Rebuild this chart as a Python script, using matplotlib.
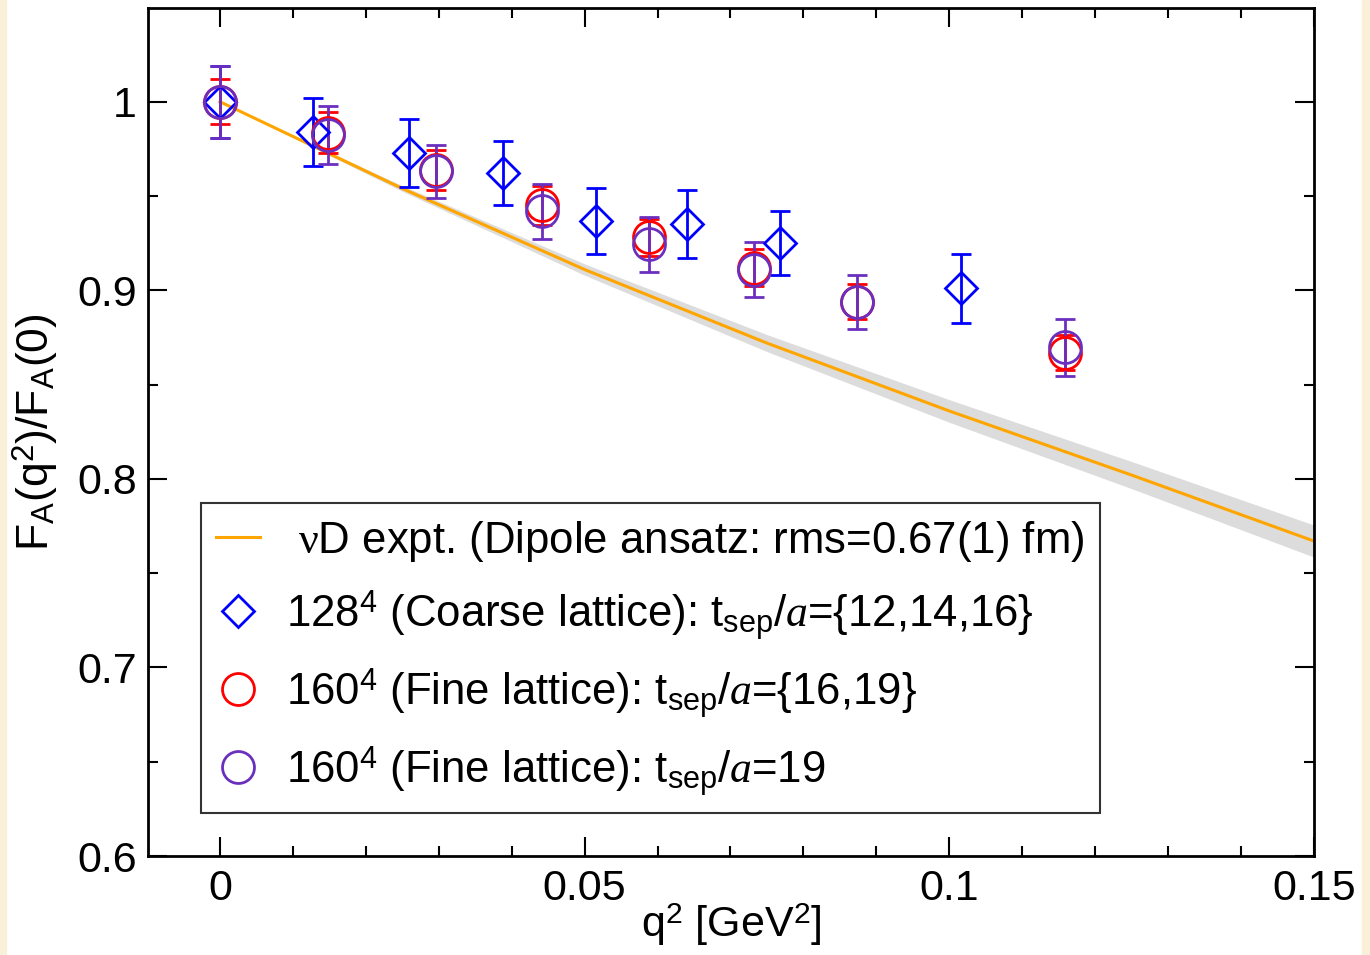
import matplotlib
matplotlib.use("Agg")
from matplotlib import pyplot as plt
from matplotlib.lines import Line2D
from matplotlib.patches import Rectangle
from matplotlib.ticker import MultipleLocator, FixedLocator
import numpy as np

plt.rcParams['font.family'] = ['Liberation Sans', 'DejaVu Sans']
plt.rcParams['mathtext.fontset'] = 'custom'
plt.rcParams['mathtext.rm'] = 'Liberation Sans'
plt.rcParams['mathtext.it'] = 'Liberation Serif:italic'
plt.rcParams['mathtext.sf'] = 'Liberation Serif'

q2_line = [0.0, 0.025, 0.05, 0.075, 0.1, 0.125, 0.15]
fa_line = [1.0, 0.954, 0.911, 0.872, 0.836, 0.802, 0.767]
fa_band = [0.0, 0.0015, 0.003, 0.0045, 0.006, 0.0072, 0.0085]

# 128^4 coarse lattice
q2_coarse = [0.0, 0.0127, 0.0259, 0.0388, 0.0516, 0.0641, 0.0768, 0.1016]
fa_coarse = [1.0, 0.984, 0.973, 0.962, 0.937, 0.935, 0.925, 0.901]
err_coarse = [0.019, 0.018, 0.018, 0.017, 0.0175, 0.018, 0.017, 0.0185]

# 160^4 fine lattice, tsep/a={16,19}
q2_fine = [0.0, 0.0148, 0.0296, 0.0442, 0.0588, 0.0732, 0.0874, 0.1158]
fa_fine_a = [1.0, 0.9836, 0.964, 0.945, 0.928, 0.912, 0.894, 0.867]
err_fine_a = [0.012, 0.011, 0.0106, 0.0103, 0.0098, 0.0098, 0.0093, 0.0093]

# 160^4 fine lattice, tsep/a=19
fa_fine_b = [1.0, 0.9825, 0.963, 0.942, 0.9245, 0.911, 0.894, 0.8698]
err_fine_b = [0.019, 0.0153, 0.0143, 0.0146, 0.0146, 0.0146, 0.0143, 0.015]

orange = '#ffa500'
blue = '#0000ff'
red = '#ff0000'
purple = '#6b2fbf'

fig = plt.figure(figsize=(13.7, 9.55), dpi=100)
fig.patches.append(Rectangle((0, 0), 6 / 1370, 1, transform=fig.transFigure,
                             color='#f8f0d8', zorder=-10))
fig.patches.append(Rectangle((1362 / 1370, 0), 8 / 1370, 1, transform=fig.transFigure,
                             color='#f8f0d8', zorder=-10))
ax = fig.add_axes([148 / 1370, 1 - 856 / 955, 1166 / 1370, 848 / 955])

q2l = np.array(q2_line)
fal = np.array(fa_line)
bnd = np.array(fa_band)
ax.fill_between(q2l, fal - bnd, fal + bnd, color='#dcdcdc', lw=0, zorder=1)
ax.plot(q2l, fal, color=orange, lw=2.2, zorder=2)

eb = dict(fmt='none', elinewidth=2, capsize=7, capthick=2, zorder=3)
mk = dict(ls='none', mfc='none', mew=2, zorder=4)

ax.errorbar(q2_coarse, fa_coarse, yerr=err_coarse, ecolor=blue, **eb)
ax.plot(q2_coarse, fa_coarse, marker='D', ms=16, mec=blue, **mk)
ax.errorbar(q2_fine, fa_fine_a, yerr=err_fine_a, ecolor=red, **eb)
ax.plot(q2_fine, fa_fine_a, marker='o', ms=23, mec=red, **mk)
ax.errorbar(q2_fine, fa_fine_b, yerr=err_fine_b, ecolor=purple, **eb)
ax.plot(q2_fine, fa_fine_b, marker='o', ms=23, mec=purple, **mk)

ax.set_xlim(-0.00986, 0.15)
ax.set_ylim(0.6, 1.0497)

ax.xaxis.set_major_locator(FixedLocator([0, 0.05, 0.1, 0.15]))
ax.xaxis.set_minor_locator(MultipleLocator(0.01))
ax.yaxis.set_major_locator(MultipleLocator(0.1))
ax.yaxis.set_minor_locator(MultipleLocator(0.05))
ax.set_xticklabels(['0', '0.05', '0.1', '0.15'])
ax.set_yticks([0.6, 0.7, 0.8, 0.9, 1.0])
ax.set_yticklabels(['0.6', '0.7', '0.8', '0.9', '1'])
ax.tick_params(which='both', direction='in', top=True, right=True, width=1.5,
               labelsize=31)
ax.tick_params(which='major', length=14)
ax.tick_params(which='minor', length=7)
ax.tick_params(axis='x', pad=9)
ax.tick_params(axis='y', pad=8)
for s in ax.spines.values():
    s.set_linewidth(2)

ax.set_xlabel(r'q$^2$ [GeV$^2$]', fontsize=31, labelpad=-5)
ax.set_ylabel(r'F$_\mathrm{A}$(q$^2$)/F$_\mathrm{A}$(0)', fontsize=32, labelpad=12)

handles = [
    Line2D([], [], color=orange, lw=2.2),
    Line2D([], [], ls='none', marker='D', ms=16, mfc='none', mec=blue, mew=2),
    Line2D([], [], ls='none', marker='o', ms=23, mfc='none', mec=red, mew=2),
    Line2D([], [], ls='none', marker='o', ms=23, mfc='none', mec=purple, mew=2),
]
labels = [
    r' $\mathsf{\nu}$D expt. (Dipole ansatz: rms=0.67(1) fm)',
    r'128$^4$ (Coarse lattice): t$_\mathrm{sep}$/$a$={12,14,16}',
    r'160$^4$ (Fine lattice): t$_\mathrm{sep}$/$a$={16,19}',
    r'160$^4$ (Fine lattice): t$_\mathrm{sep}$/$a$=19',
]
leg = ax.legend(handles, labels, loc='lower left',
                bbox_to_anchor=(53 / 1166, 43 / 848), borderaxespad=0,
                fontsize=31.5, frameon=True, fancybox=False, handlelength=1.0,
                handletextpad=0.6, labelspacing=0.55, borderpad=0.35)
leg.get_frame().set_edgecolor('black')
leg.get_frame().set_linewidth(1.5)

fig.savefig('out.png', dpi=100)
